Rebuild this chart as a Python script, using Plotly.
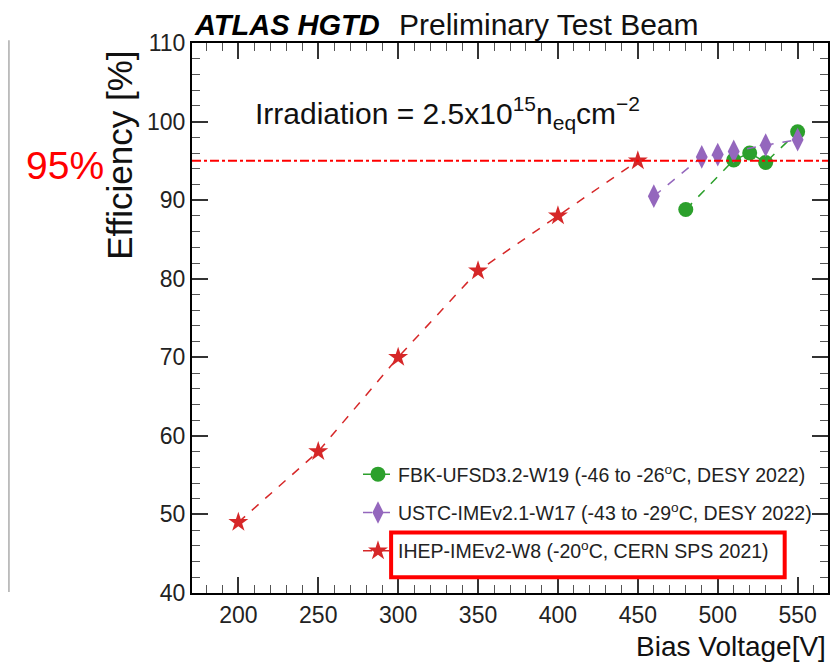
import plotly.graph_objects as go

# data
fbk_v = [480, 510, 520, 530, 550]
fbk_eff = [88.8, 95.1, 96.0, 94.8, 98.7]

ustc_v = [460, 490, 500, 510, 530, 550]
ustc_eff = [90.5, 95.5, 95.8, 96.2, 97.0, 97.7]

ihep_v = [200, 250, 300, 350, 400, 450]
ihep_eff = [49, 58, 70, 81, 88, 95]

fbk_name = 'FBK-UFSD3.2-W19 (-46 to -26<sup>o</sup>C, DESY 2022)'
ustc_name = 'USTC-IMEv2.1-W17 (-43 to -29<sup>o</sup>C, DESY 2022)'
ihep_name = 'IHEP-IMEv2-W8 (-20<sup>o</sup>C, CERN SPS 2021)'

FONT = 'Liberation Sans, Arial, sans-serif'

fig = go.Figure()
fig.add_trace(go.Scatter(x=fbk_v, y=fbk_eff, name=fbk_name, mode='lines+markers', legendgroup='a',
                         line=dict(color='#2ca02c', width=1.5, dash='dash'),
                         marker=dict(symbol='circle', size=15, color='#2ca02c')))
fig.add_trace(go.Scatter(x=ustc_v, y=ustc_eff, name=ustc_name, mode='lines+markers', legendgroup='b',
                         line=dict(color='#9467bd', width=1.5, dash='dash'),
                         marker=dict(symbol='diamond-tall', size=17, color='#9467bd')))
fig.add_trace(go.Scatter(x=ihep_v, y=ihep_eff, name=ihep_name, mode='lines+markers', legendgroup='c',
                         line=dict(color='#d62728', width=1.5, dash='dash'),
                         marker=dict(symbol='star', size=15, color='#d62728')))

# 95% reference line
fig.add_shape(type='line', xref='paper', yref='y', x0=0, x1=1, y0=95, y1=95,
              line=dict(color='red', width=2, dash='dashdot'))
# highlight box round the IHEP legend entry
fig.add_shape(type='rect', xref='x', yref='y', x0=295.6, x1=541.9, y0=42.0, y1=47.7,
              line=dict(color='red', width=4))
# grey line at the left edge
fig.add_shape(type='line', xref='paper', yref='paper', x0=-0.288, x1=-0.288, y0=0.002, y1=1.005,
              line=dict(color='#bbbbbb', width=2))

fig.add_annotation(text='<b><i>ATLAS HGTD</i></b>', xref='paper', yref='paper', x=0, y=1.033,
                   xanchor='left', yanchor='middle', showarrow=False,
                   font=dict(family=FONT, size=29, color='black'))
fig.add_annotation(text='Preliminary Test Beam', xref='paper', yref='paper', x=0.322, y=1.033,
                   xanchor='left', yanchor='middle', showarrow=False,
                   font=dict(family=FONT, size=30, color='#111'))
fig.add_annotation(text='Irradiation = 2.5x10<sup>15</sup>n<sub>eq</sub>cm<sup>\u22122</sup>',
                   xref='paper', yref='paper', x=0.096, y=0.873,
                   xanchor='left', yanchor='middle', showarrow=False,
                   font=dict(family=FONT, size=30, color='#111'))
fig.add_annotation(text='95%', xref='paper', yref='paper', x=-0.2, y=0.778,
                   xanchor='center', yanchor='middle', showarrow=False,
                   font=dict(family=FONT, size=39, color='red'))
fig.add_annotation(text='Efficiency [%]', xref='paper', yref='paper', x=-0.115, y=0.99,
                   xanchor='center', yanchor='top', textangle=-90, showarrow=False,
                   font=dict(family=FONT, size=35, color='#111'))
fig.add_annotation(text='Bias Voltage[V]', xref='paper', yref='paper', x=1.0, y=-0.065,
                   xanchor='right', yanchor='top', showarrow=False,
                   font=dict(family=FONT, size=28, color='#111'))

axis_common = dict(showline=True, linecolor='black', linewidth=2, mirror='ticks',
                   ticks='inside', ticklen=16, tickwidth=1.5, tickcolor='#333',
                   showgrid=False, zeroline=False,
                   tickfont=dict(family=FONT, size=23, color='#222'))

# the page adds an 8px body margin, so the figure is 8px smaller than the window
fig.update_layout(
    width=830, height=663,
    margin=dict(l=184, r=10, t=35, b=78, autoexpand=False),
    paper_bgcolor='white', plot_bgcolor='white',
    showlegend=True,
    legend=dict(x=0.261, y=0.251, xanchor='left', yanchor='top',
                bgcolor='rgba(0,0,0,0)', tracegroupgap=10,
                font=dict(family=FONT, size=19.5, color='#222')),
    xaxis=dict(range=[171, 569], tickvals=[200, 250, 300, 350, 400, 450, 500, 550],
               minor=dict(dtick=10, tick0=0, ticks='inside', ticklen=8, tickcolor='#555', tickwidth=1),
               **axis_common),
    yaxis=dict(range=[40, 110], dtick=10,
               minor=dict(dtick=2, tick0=0, ticks='inside', ticklen=8, tickcolor='#555', tickwidth=1),
               **axis_common),
)

fig.write_html("out.html")
